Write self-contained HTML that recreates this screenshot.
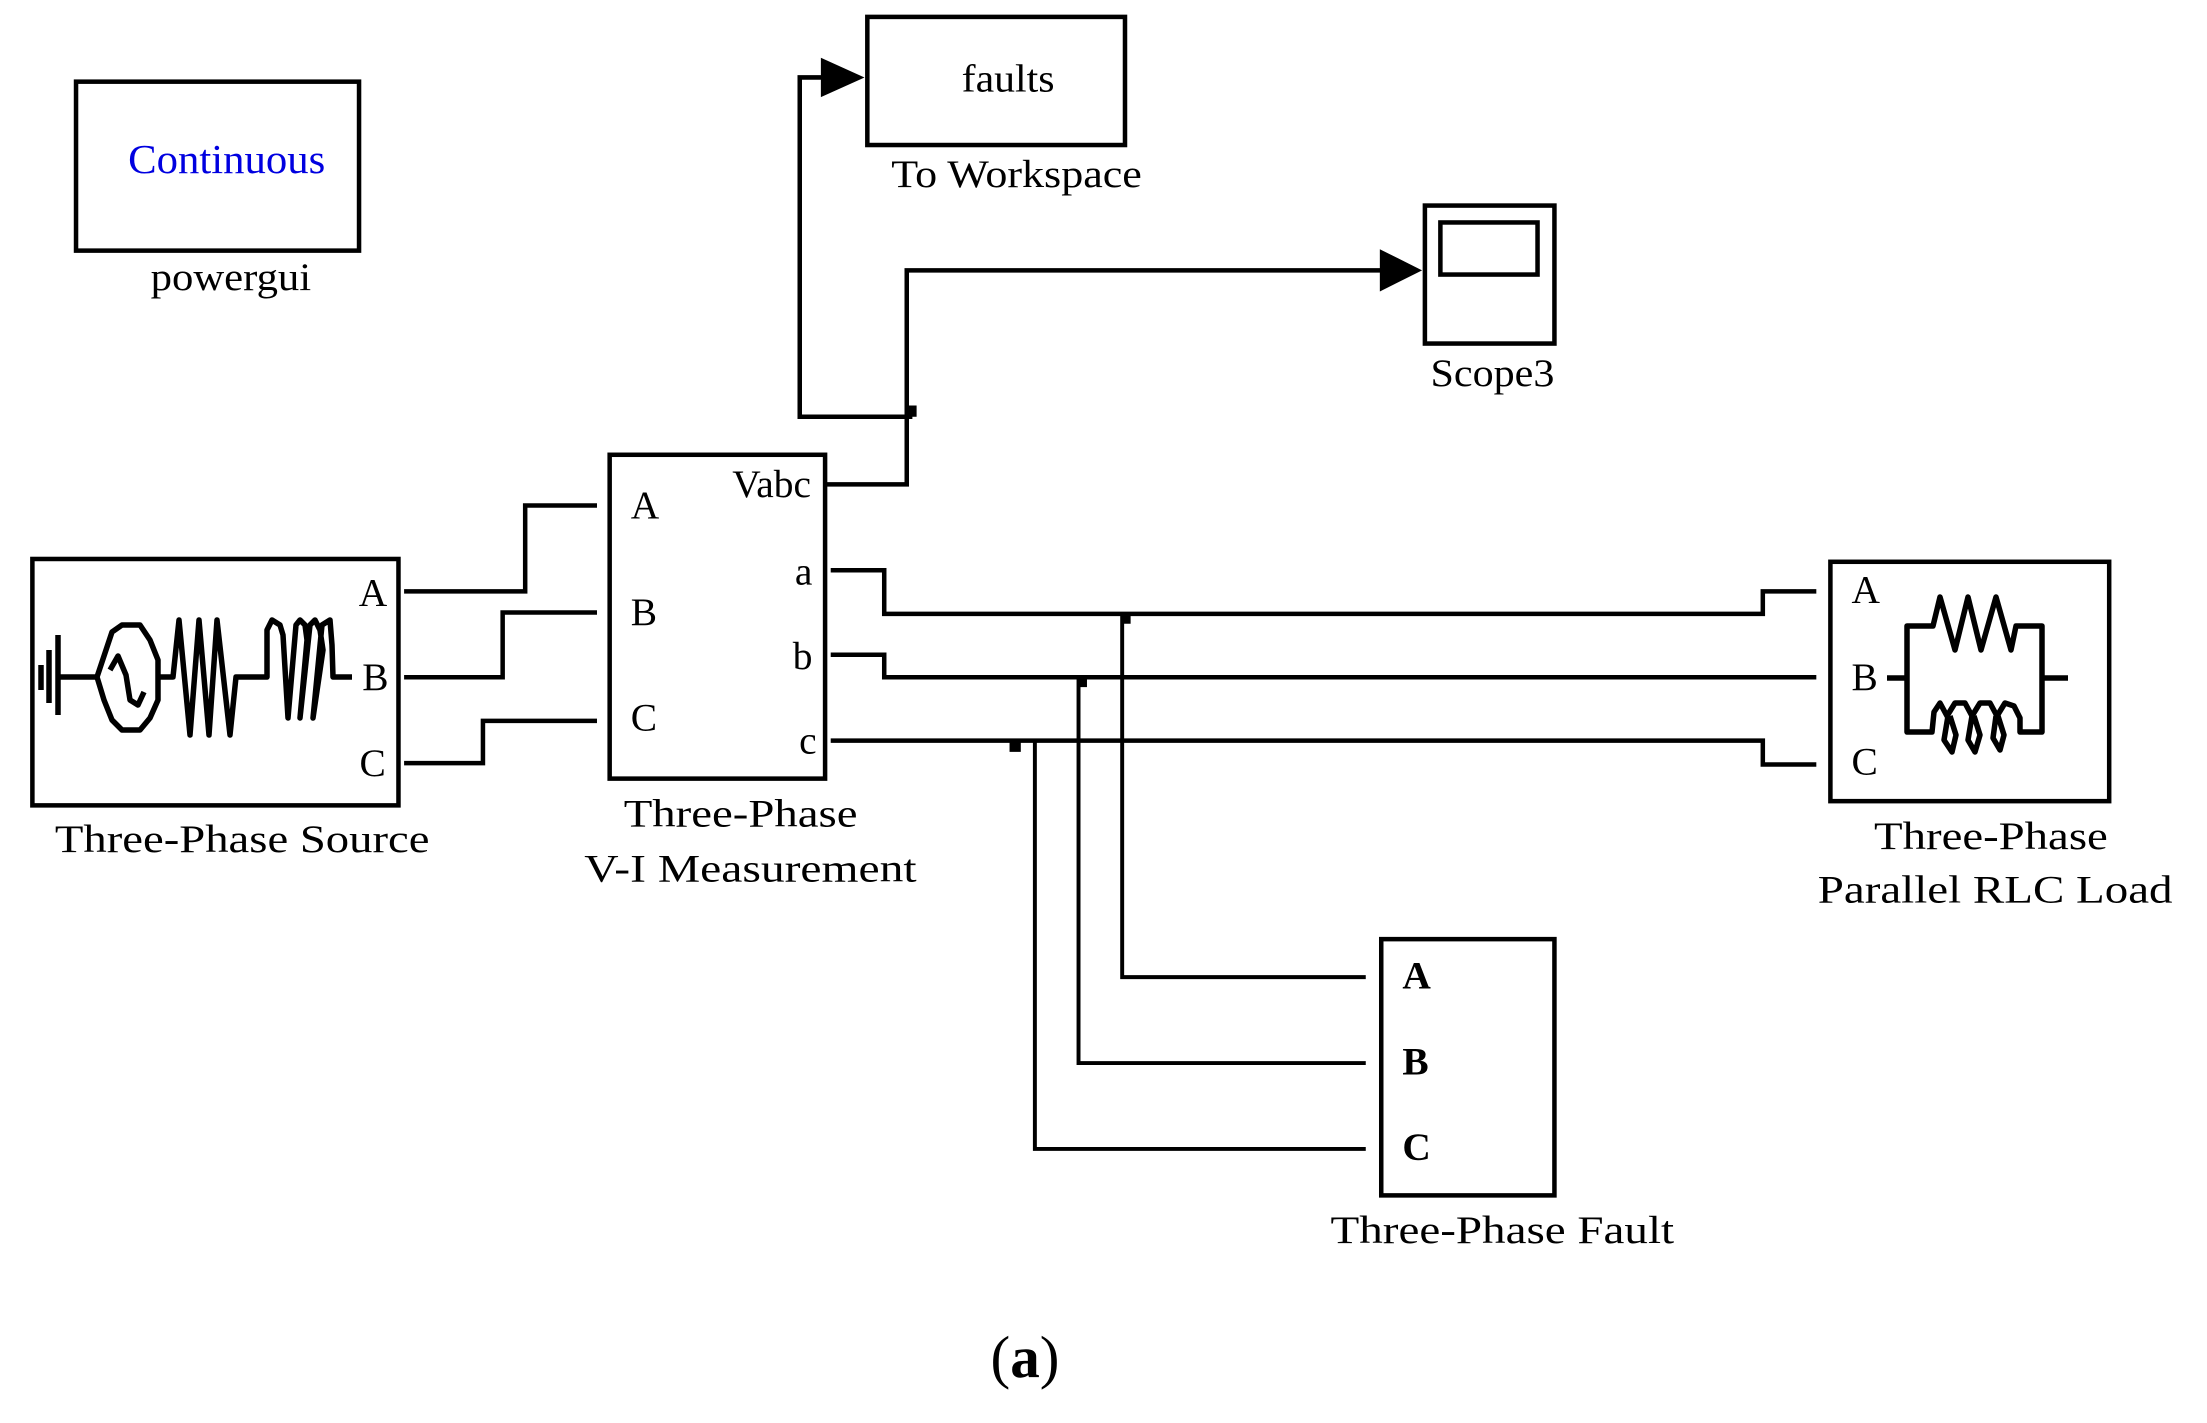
<!DOCTYPE html>
<html><head><meta charset="utf-8"><style>
html,body{margin:0;padding:0;background:#fff;}
svg{display:block;}
text{font-family:"Liberation Serif",serif;fill:#000;}
</style></head><body>
<svg width="2207" height="1423" viewBox="0 0 2207 1423" xmlns="http://www.w3.org/2000/svg">
<g transform="scale(1.408)" fill="none" stroke="#000" stroke-width="3.2" stroke-linecap="butt" stroke-linejoin="miter">
  <!-- powergui -->
  <rect x="54" y="58" width="201" height="120"/>
  <text x="161" y="123" font-size="29" text-anchor="middle" style="fill:#0000e0" stroke="none" textLength="140" lengthAdjust="spacingAndGlyphs">Continuous</text>
  <text x="164" y="206" font-size="28" text-anchor="middle" stroke="none" textLength="114" lengthAdjust="spacingAndGlyphs">powergui</text>

  <!-- To Workspace -->
  <rect x="616" y="12" width="183" height="91"/>
  <text x="716" y="65" font-size="28" text-anchor="middle" stroke="none" textLength="66" lengthAdjust="spacingAndGlyphs">faults</text>
  <text x="722" y="133" font-size="28" text-anchor="middle" stroke="none" textLength="178" lengthAdjust="spacingAndGlyphs">To Workspace</text>
  <polyline points="648,296 568,296 568,55 584,55"/>
  <polygon points="583,41 614,55 583,69" fill="#000" stroke="none"/>
  <rect x="645" y="288" width="6" height="8" fill="#000" stroke="none"/>

  <!-- Scope -->
  <rect x="1012" y="146" width="92" height="98"/>
  <rect x="1023" y="158" width="69" height="37"/>
  <text x="1060" y="274" font-size="28" text-anchor="middle" stroke="none" textLength="88" lengthAdjust="spacingAndGlyphs">Scope3</text>
  <polyline points="586,344 644,344 644,192 982,192"/>
  <polygon points="980,177 1010,192 980,207" fill="#000" stroke="none"/>

  <!-- V-I measurement -->
  <rect x="433" y="323" width="153" height="230"/>
  <g stroke="none" font-size="28">
    <text x="448" y="368">A</text>
    <text x="448" y="444">B</text>
    <text x="448" y="519">C</text>
    <text x="576" y="353" text-anchor="end">Vabc</text>
    <text x="577" y="415" text-anchor="end">a</text>
    <text x="577" y="475" text-anchor="end">b</text>
    <text x="580" y="535" text-anchor="end">c</text>
    <text x="526" y="587" text-anchor="middle" textLength="166" lengthAdjust="spacingAndGlyphs">Three-Phase</text>
    <text x="533" y="626" text-anchor="middle" textLength="236" lengthAdjust="spacingAndGlyphs">V-I Measurement</text>
  </g>

  <!-- Source -->
  <rect x="23" y="397" width="260" height="175"/>
  <g stroke="none" font-size="28">
    <text x="275" y="430" text-anchor="end">A</text>
    <text x="276" y="490" text-anchor="end">B</text>
    <text x="274" y="551" text-anchor="end">C</text>
    <text x="172" y="605" text-anchor="middle" textLength="266" lengthAdjust="spacingAndGlyphs">Three-Phase Source</text>
  </g>
  <polyline points="287,420 373,420 373,359 424,359"/>
  <polyline points="287,481 357,481 357,435 424,435"/>
  <polyline points="287,542 343,542 343,512 424,512"/>

  <!-- bus lines -->
  <polyline points="590,405 628,405 628,436 1252,436 1252,420 1290,420"/>
  <polyline points="590,465 628,465 628,481 1290,481"/>
  <polyline points="590,526 1252,526 1252,543 1290,543"/>
  <g stroke-width="2.8">
    <polyline points="797,436 797,694 970,694"/>
    <polyline points="766,481 766,755 970,755"/>
    <polyline points="735,526 735,816 970,816"/>
  </g>
  <rect x="797" y="436" width="6" height="7" fill="#000" stroke="none"/>
  <rect x="766" y="481" width="6" height="7" fill="#000" stroke="none"/>
  <rect x="717" y="526" width="8" height="8" fill="#000" stroke="none"/>

  <!-- Fault -->
  <rect x="981" y="667" width="123" height="182"/>
  <g stroke="none" font-size="28" font-weight="bold">
    <text x="996" y="702">A</text>
    <text x="996" y="763">B</text>
    <text x="996" y="824">C</text>
  </g>
  <text x="1067" y="883" font-size="28" text-anchor="middle" stroke="none" textLength="244" lengthAdjust="spacingAndGlyphs">Three-Phase Fault</text>

  <!-- Load -->
  <rect x="1300" y="399" width="198" height="170"/>
  <g stroke="none" font-size="28">
    <text x="1315" y="428">A</text>
    <text x="1315" y="490">B</text>
    <text x="1315" y="550">C</text>
    <text x="1414" y="603" text-anchor="middle" textLength="166" lengthAdjust="spacingAndGlyphs">Three-Phase</text>
    <text x="1417" y="641" text-anchor="middle" textLength="252" lengthAdjust="spacingAndGlyphs">Parallel RLC Load</text>
  </g>

  <text x="728" y="978" font-size="42" text-anchor="middle" stroke="none"><tspan>(</tspan><tspan font-weight="bold">a</tspan><tspan>)</tspan></text>
</g>

<!-- icons in original coords -->
<g fill="none" stroke="#000" stroke-width="5.5" stroke-linejoin="round">
  <line x1="41" y1="665" x2="41" y2="690"/>
  <line x1="49" y1="650" x2="49" y2="703"/>
  <line x1="58" y1="635" x2="58" y2="715"/>
  <line x1="58" y1="677" x2="97" y2="677"/>
  <polygon points="97,677 112,632 122,625 140,625 150,640 158,660 158,700 150,718 140,730 122,730 112,720 104,700"/>
  <polyline points="110,670 118,656 126,675 130,700 138,705 144,692"/>
  <polyline points="158,677 173,677 179,620 190,735 199,620 209,735 217,620 230,735 236,677 267,677 267,630 272,620 280,625 283,635 288,718 296,625 300,620 305,625 307,640 300,718 310,625 315,620 320,630 323,650 313,718 322,625 330,620 332,645 333,677 352,677"/>
  <polyline points="1887,678 1907,678"/>
  <polyline points="2042,678 2068,678"/>
  <polyline points="1907,678 1907,626 1933,626 1940,597 1955,650 1968,597 1981,650 1996,597 2011,650 2016,626 2042,626 2042,732 2020,732 2020,718 2014,706 2005,703 1997,716 1990,703 1980,703 1972,716 1965,703 1955,703 1947,716 1940,703 1934,712 1932,732 1907,732 1907,678"/>
  <polyline points="1948,716 1944,740 1952,752 1956,735 1950,716"/>
  <polyline points="1972,716 1968,740 1975,752 1980,735 1974,716"/>
  <polyline points="1996,716 1993,738 2000,750 2004,735 1998,716"/>
</g>
</svg>
</body></html>
